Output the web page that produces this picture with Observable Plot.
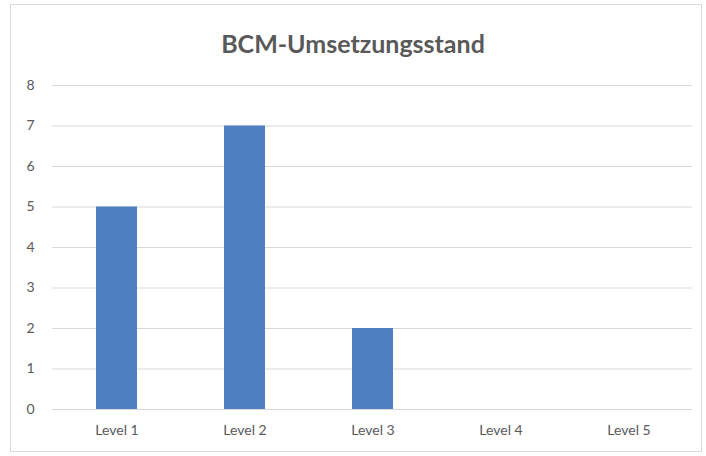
<!DOCTYPE html>
<html>
<head>
<meta charset="utf-8">
<script src="https://cdn.jsdelivr.net/npm/d3@7"></script>
<script src="https://cdn.jsdelivr.net/npm/@observablehq/plot@0.6"></script>
<style>
  html, body { margin: 0; padding: 0; background: #fff; }
  #wrap { position: relative; width: 706px; height: 456px; overflow: hidden; }
  #border { position: absolute; left: 10px; top: 4px; width: 690px; height: 446px; border: 1px solid #d9d9d9; box-sizing: content-box; }
  #title { position: absolute; left: 0; width: 706px; top: 28px; text-align: center;
           font-family: Lato, "Open Sans", sans-serif; font-weight: bold; font-size: 25px; color: #595959; }
  #chart { position: absolute; left: 0; top: 0; }
</style>
</head>
<body>
<div id="wrap">
  <div id="border"></div>
  <div id="chart"></div>
  <div id="title">BCM-Umsetzungsstand</div>
</div>
<script>
const categories = ["Level 1", "Level 2", "Level 3", "Level 4", "Level 5"];
const values = [5, 7, 2, 0, 0];
const yTicks = [0, 1, 2, 3, 4, 5, 6, 7, 8];

const data = categories.map((c, i) => ({ level: c, count: values[i] }));

const chart = Plot.plot({
  width: 706,
  height: 456,
  marginTop: 85,
  marginBottom: 47,
  marginLeft: 52,
  marginRight: 14,
  style: { fontFamily: "Lato, 'Open Sans', sans-serif", fontSize: "14px", color: "#595959", background: "transparent" },
  x: { domain: categories, paddingInner: 0.68, paddingOuter: 0.34, label: null, tickSize: 0, tickPadding: 16 },
  y: { domain: [0, 8], ticks: yTicks, label: null, tickSize: 0, tickPadding: 18, tickFormat: d => String(d) },
  marks: [
    Plot.gridY(yTicks, { stroke: "#d9d9d9", strokeOpacity: 1, strokeWidth: 1 }),
    Plot.barY(data, { x: "level", y: "count", fill: "#4e7fc0" }),
    Plot.ruleY([0], { stroke: "#d9d9d9", strokeWidth: 1 })
  ]
});
document.getElementById("chart").appendChild(chart);
</script>
</body>
</html>
